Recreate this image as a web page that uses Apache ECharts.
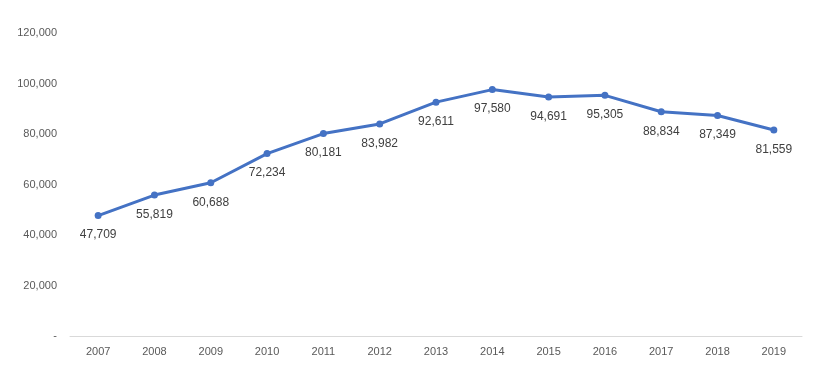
<!DOCTYPE html>
<html><head><meta charset="utf-8">
<script src="https://cdn.jsdelivr.net/npm/echarts@6/dist/echarts.min.js"></script>
<style>html,body{margin:0;padding:0;background:#fff;}#c{width:824px;height:385px;}</style>
</head><body><div id="c"></div>
<script>
const years = ['2007','2008','2009','2010','2011','2012','2013','2014','2015','2016','2017','2018','2019'];
const values = [47709,55819,60688,72234,80181,83982,92611,97580,94691,95305,88834,87349,81559];
const chart = echarts.init(document.getElementById('c'));
chart.setOption({
  animation:false,
  grid:{left:70,right:22,top:33,bottom:49},
  xAxis:{type:'category',data:years,boundaryGap:true,
    axisLine:{lineStyle:{color:'#d9d9d9',width:1}},axisTick:{show:false},
    axisLabel:{color:'#595959',fontFamily:'Liberation Sans',fontSize:11,margin:10}},
  yAxis:{type:'value',min:0,max:120000,interval:20000,
    splitLine:{show:false},axisLine:{show:false},axisTick:{show:false},
    axisLabel:{color:'#595959',fontFamily:'Liberation Sans',fontSize:11,margin:13,
      formatter:v=>v===0?'-':v.toLocaleString('en-US')}},
  series:[{type:'line',data:values,symbol:'circle',symbolSize:7,
    lineStyle:{color:'#4472C4',width:3},itemStyle:{color:'#4472C4'},
    label:{show:true,position:'bottom',distance:10,color:'#404040',fontFamily:'Liberation Sans',fontSize:12,
      formatter:p=>p.value.toLocaleString('en-US')}}]
});
</script></body></html>
